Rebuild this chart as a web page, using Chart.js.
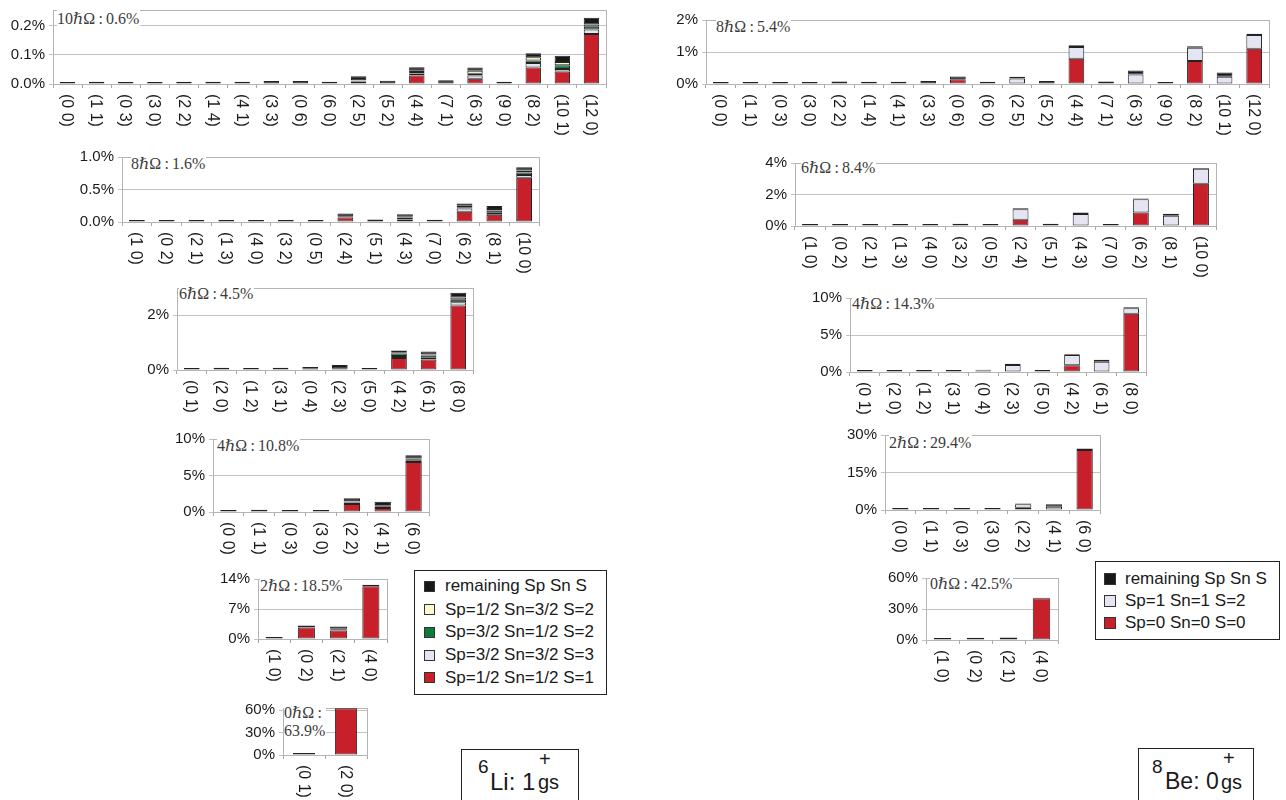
<!DOCTYPE html>
<html>
<head>
<meta charset="utf-8">
<script src="https://cdn.jsdelivr.net/npm/chart.js@4.4.1/dist/chart.umd.min.js"></script>
<style>
  html, body { margin: 0; padding: 0; background: #fff; }
  body { width: 1286px; height: 800px; position: relative; overflow: hidden; font-family: 'Liberation Sans', Arial, sans-serif; }
  canvas.panel { position: absolute; }
  .note { position: absolute; font: 16px/18px 'Liberation Serif', 'DejaVu Serif', serif; color: #3c3c3c; background: #fff; white-space: nowrap; padding-right: 1px; }
  .legend { position: absolute; border: 1.5px solid #222; background: #fff; box-sizing: border-box; }
  .legend .sw { position: absolute; border: 1px solid #333; box-sizing: border-box; }
  .legend .txt { position: absolute; font-size: 17px; line-height: 20px; color: #1a1a1a; white-space: nowrap; }
  .tag { position: absolute; border: 1.5px solid #222; background: #fff; box-sizing: border-box; }
  .tag span { position: absolute; white-space: nowrap; color: #1a1a1a; font-family: 'Liberation Sans', Arial, sans-serif; }
</style>
</head>
<body>
<script>
// ---- 6Li 1+ ground state: categories per NħΩ shell ----
const li10Cats = ['(0 0)','(1 1)','(0 3)','(3 0)','(2 2)','(1 4)','(4 1)','(3 3)','(0 6)','(6 0)','(2 5)','(5 2)','(4 4)','(7 1)','(6 3)','(9 0)','(8 2)','(10 1)','(12 0)'];
const li8Cats  = ['(1 0)','(0 2)','(2 1)','(1 3)','(4 0)','(3 2)','(0 5)','(2 4)','(5 1)','(4 3)','(7 0)','(6 2)','(8 1)','(10 0)'];
const li6Cats  = ['(0 1)','(2 0)','(1 2)','(3 1)','(0 4)','(2 3)','(5 0)','(4 2)','(6 1)','(8 0)'];
const li4Cats  = ['(0 0)','(1 1)','(0 3)','(3 0)','(2 2)','(4 1)','(6 0)'];
const li2Cats  = ['(1 0)','(0 2)','(2 1)','(4 0)'];
const li0Cats  = ['(0 1)','(2 0)'];

// values in percent, stacked bottom-up: S=1, S=3, Sp=3/2 S=2, Sp=1/2 S=2, remaining
const li10S1   = [0,0,0,0,0,0,0,0,0,0,0.009,0,0.029,0,0.018,0,0.057,0.043,0.172];
const li10S3   = [0,0,0,0,0,0,0,0,0,0,0.002,0,0.007,0,0.011,0,0.015,0.009,0.016];
const li10G    = [0,0,0,0,0,0,0,0,0,0,0.001,0,0.005,0,0.006,0,0.009,0.013,0.009];
const li10C    = [0,0,0,0,0,0,0,0,0,0,0.001,0,0.005,0,0.011,0,0.011,0.011,0.008];
const li10Rest = [0.007,0.008,0.007,0.007,0.008,0.008,0.008,0.010,0.010,0.008,0.014,0.011,0.012,0.013,0.011,0.008,0.014,0.021,0.023];

const li8S1   = [0,0,0,0,0,0,0,0.07,0,0.04,0,0.157,0.11,0.681];
const li8S3   = [0,0,0,0,0,0,0,0.01,0,0.02,0,0.05,0.033,0.043];
const li8G    = [0,0,0,0,0,0,0,0,0,0.01,0,0.02,0.033,0.038];
const li8C    = [0,0,0,0,0,0,0,0,0,0.01,0,0.024,0.024,0.029];
const li8Rest = [0.032,0.032,0.032,0.032,0.032,0.032,0.032,0.05,0.04,0.04,0.035,0.033,0.048,0.052];

const li6S1   = [0,0,0,0,0.06,0.06,0,0.44,0.38,2.36];
const li6S3   = [0,0,0,0,0,0,0,0.07,0.07,0.12];
const li6G    = [0,0,0,0,0,0,0,0.09,0.08,0.09];
const li6C    = [0,0,0,0,0,0,0,0.045,0.04,0.08];
const li6Rest = [0.075,0.08,0.075,0.085,0.05,0.12,0.075,0.07,0.11,0.18];

const li4S1   = [0,0,0,0,1.11,0.56,6.84];
const li4S3   = [0,0,0,0,0.2,0.15,0.26];
const li4G    = [0,0,0,0,0.1,0.15,0.13];
const li4C    = [0,0,0,0,0.05,0.1,0.09];
const li4Rest = [0.28,0.32,0.28,0.28,0.42,0.45,0.47];

const li2S1   = [0,2.66,1.96,12.32];
const li2S3   = [0,0.04,0.2,0];
const li2G    = [0,0,0.15,0];
const li2C    = [0,0,0.1,0];
const li2Rest = [0.45,0.45,0.5,0.35];

const li0S1   = [0,62.7];
const li0S3   = [0,0];
const li0G    = [0,0];
const li0C    = [0,0];
const li0Rest = [2.6,0.3];

// ---- 8Be 0+ ground state ----
// stacked bottom-up: S=0, S=2, remaining
const be8S0   = [0,0,0,0,0,0,0,0,0.145,0,0,0,0.79,0,0,0,0.72,0,1.10];
const be8S2   = [0,0,0,0,0,0,0,0,0,0,0.17,0,0.37,0,0.30,0,0.41,0.23,0.435];
const be8Rest = [0.065,0.065,0.065,0.065,0.08,0.07,0.07,0.09,0.087,0.07,0.06,0.095,0.05,0.08,0.12,0.065,0.05,0.13,0.035];

const be6S0   = [0,0,0,0,0,0,0,0.39,0,0,0,0.85,0,2.69];
const be6S2   = [0,0,0,0,0,0,0,0.68,0,0.76,0,0.85,0.65,0.95];
const be6Rest = [0.13,0.13,0.13,0.13,0.13,0.15,0.13,0.05,0.14,0.1,0.13,0.04,0.12,0.04];

const be4S0   = [0,0,0,0,0,0,0,0.92,0,7.86];
const be4S2   = [0,0,0,0,0.2,0.95,0,1.38,1.4,0.75];
const be4Rest = [0.28,0.28,0.28,0.28,0.12,0.18,0.28,0.1,0.25,0.15];

const be2S0   = [0,0,0,0,0.9,0,24.0];
const be2S2   = [0,0,0,0,1.4,1.3,0];
const be2Rest = [0.8,0.8,0.8,0.85,0.3,1.0,0.6];

const be0S0   = [0,0,0,40.5];
const be0S2   = [0,0,0.5,0];
const be0Rest = [1.9,2.1,1.8,0.3];

// series names, bottom of stack first
const liSeries = ['Sp=1/2 Sn=1/2 S=1','Sp=3/2 Sn=3/2 S=3','Sp=3/2 Sn=1/2 S=2','Sp=1/2 Sn=3/2 S=2','remaining Sp Sn S'];
const beSeries = ['Sp=0 Sn=0 S=0','Sp=1 Sn=1 S=2','remaining Sp Sn S'];

const RED = '#c8202a', LAV = '#e4e4f2', GREEN = '#0b7d3b', CREAM = '#fdf9cf', BLACK = '#181818';
const liColors = [RED, LAV, GREEN, CREAM, BLACK];
const beColors = [RED, LAV, BLACK];

const AX_W = 52, PAD_T = 8, PAD_R = 6, X_H = 62;
const FONT = "'Liberation Sans', Arial, sans-serif";

const panels = [
  { box: [53, 5, 606, 84],     max: 0.255, step: 0.1, dec: 1, cats: li10Cats, data: [li10S1, li10S3, li10G, li10C, li10Rest], colors: liColors, note: '10ℏΩ\u2009:\u20090.6%', nx: 4, ny: 5 },
  { box: [122, 152, 539, 222], max: 1.0,  step: 0.5, dec: 1, cats: li8Cats,  data: [li8S1, li8S3, li8G, li8C, li8Rest], colors: liColors, note: '8ℏΩ\u2009:\u20091.6%', nx: 9, ny: 3 },
  { box: [177, 283, 473, 370], max: 3,    step: 2,   dec: 0, cats: li6Cats,  data: [li6S1, li6S3, li6G, li6C, li6Rest], colors: liColors, note: '6ℏΩ\u2009:\u20094.5%', nx: 2, ny: 2 },
  { box: [213, 434, 429, 512], max: 10,   step: 5,   dec: 0, cats: li4Cats,  data: [li4S1, li4S3, li4G, li4C, li4Rest], colors: liColors, note: '4ℏΩ\u2009:\u200910.8%', nx: 4, ny: 3 },
  { box: [258, 574, 387, 639], max: 14,   step: 7,   dec: 0, cats: li2Cats,  data: [li2S1, li2S3, li2G, li2C, li2Rest], colors: liColors, note: '2ℏΩ\u2009:\u200918.5%', nx: 2, ny: 3 },
  { box: [283, 703, 367, 755], max: 63,   step: 30,  dec: 0, cats: li0Cats,  data: [li0S1, li0S3, li0G, li0C, li0Rest], colors: liColors, note: '0ℏΩ\u2009:<br>63.9%', nx: 1, ny: 1 },
  { box: [706, 15, 1269, 84],  max: 2,    step: 1,   dec: 0, cats: li10Cats, data: [be8S0, be8S2, be8Rest], colors: beColors, note: '8ℏΩ\u2009:\u20095.4%', nx: 10, ny: 3 },
  { box: [795, 158, 1216, 226], max: 4,   step: 2,   dec: 0, cats: li8Cats,  data: [be6S0, be6S2, be6Rest], colors: beColors, note: '6ℏΩ\u2009:\u20098.4%', nx: 6, ny: 1 },
  { box: [850, 293, 1146, 372], max: 10,  step: 5,   dec: 0, cats: li6Cats,  data: [be4S0, be4S2, be4Rest], colors: beColors, note: '4ℏΩ\u2009:\u200914.3%', nx: 2, ny: 2 },
  { box: [885, 430, 1100, 510], max: 30,  step: 15,  dec: 0, cats: li4Cats,  data: [be2S0, be2S2, be2Rest], colors: beColors, note: '2ℏΩ\u2009:\u200929.4%', nx: 4, ny: 4 },
  { box: [926, 573, 1058, 640], max: 60,  step: 30,  dec: 0, cats: li2Cats,  data: [be0S0, be0S2, be0Rest], colors: beColors, note: '0ℏΩ\u2009:\u200942.5%', nx: 4, ny: 2 }
];

// light frame round the plot area, rotated category labels under the axis
const framePlugin = {
  id: 'frame',
  beforeDatasetsDraw(chart) {
    const { ctx, chartArea: a } = chart;
    ctx.save();
    ctx.strokeStyle = '#b4b4b4';
    ctx.lineWidth = 1;
    ctx.strokeRect(Math.round(a.left) + 0.5, Math.round(a.top) + 0.5, Math.round(a.right - a.left), Math.round(a.bottom - a.top));
    ctx.restore();
  },
  afterDraw(chart) {
    const { ctx, chartArea: a } = chart;
    const xs = chart.scales.x;
    ctx.save();
    ctx.font = '16px ' + FONT;
    ctx.fillStyle = '#1a1a1a';
    ctx.textAlign = 'left';
    ctx.textBaseline = 'middle';
    xs.getLabels().forEach((lab, i) => {
      ctx.save();
      ctx.translate(xs.getPixelForValue(i) - 1, a.bottom + 10);
      ctx.rotate(Math.PI / 2);
      ctx.fillText(lab, 0, 0);
      ctx.restore();
    });
    ctx.restore();
  }
};

function makePanel(p) {
  const [l, t, r, b] = p.box;
  const cv = document.createElement('canvas');
  cv.className = 'panel';
  cv.width = r - l + AX_W + PAD_R;
  cv.height = b - t + PAD_T + X_H;
  cv.style.left = (l - AX_W) + 'px';
  cv.style.top = (t - PAD_T) + 'px';
  document.body.appendChild(cv);

  new Chart(cv, {
    type: 'bar',
    data: {
      labels: p.cats,
      datasets: p.data.map((d, i) => ({
        data: d,
        backgroundColor: p.colors[i],
        borderColor: '#222',
        borderWidth: 1,
        borderSkipped: false,
        inflateAmount: 0,
        barPercentage: 0.53,
        categoryPercentage: 1
      }))
    },
    options: {
      responsive: false,
      animation: false,
      devicePixelRatio: 1,
      layout: { padding: { top: PAD_T, right: PAD_R, left: 0, bottom: 0 } },
      plugins: { legend: { display: false }, tooltip: { enabled: false }, title: { display: false } },
      scales: {
        x: {
          stacked: true,
          offset: true,
          grid: { offset: true, drawOnChartArea: false, drawTicks: true, tickLength: 4, color: '#a8a8a8' },
          border: { color: '#a8a8a8' },
          ticks: { display: false },
          afterFit(s) { s.height = X_H; }
        },
        y: {
          stacked: true,
          min: 0,
          max: p.max,
          ticks: {
            stepSize: p.step,
            padding: 4,
            color: '#1a1a1a',
            font: { family: FONT, size: 15 },
            autoSkip: false,
            callback: v => v.toFixed(p.dec) + '%'
          },
          grid: { color: '#c2c2c2', tickLength: 4 },
          border: { color: '#a8a8a8' },
          afterBuildTicks(s) {
            // only whole steps, never the odd top value
            const out = [];
            for (let k = 0; k * p.step <= p.max + 1e-9; k++) out.push({ value: +(k * p.step).toFixed(6) });
            s.ticks = out;
          },
          afterFit(s) { s.width = AX_W; }
        }
      }
    },
    plugins: [framePlugin]
  });

  const n = document.createElement('div');
  n.className = 'note';
  n.innerHTML = p.note;
  n.style.left = (l + p.nx) + 'px';
  n.style.top = (t + p.ny) + 'px';
  document.body.appendChild(n);
}

panels.forEach(makePanel);

// legends, top row first (reverse of stack order)
function makeLegend(names, colors, box, rows, swX, swSize, txtX) {
  const lg = document.createElement('div');
  lg.className = 'legend';
  lg.style.left = box[0] + 'px';
  lg.style.top = box[1] + 'px';
  lg.style.width = box[2] + 'px';
  lg.style.height = box[3] + 'px';
  const order = names.map((_, i) => i).reverse();
  order.forEach((idx, k) => {
    const cy = rows[k];
    const sw = document.createElement('div');
    sw.className = 'sw';
    sw.style.left = swX + 'px';
    sw.style.top = (cy - swSize / 2) + 'px';
    sw.style.width = swSize + 'px';
    sw.style.height = swSize + 'px';
    sw.style.background = colors[idx];
    lg.appendChild(sw);
    const tx = document.createElement('div');
    tx.className = 'txt';
    tx.style.left = txtX + 'px';
    tx.style.top = (cy - 10) + 'px';
    tx.textContent = names[idx];
    lg.appendChild(tx);
  });
  document.body.appendChild(lg);
}

makeLegend(liSeries, liColors, [414, 570, 193, 125], [15, 38.5, 61, 84, 106.5], 9, 11, 30);
makeLegend(beSeries, beColors, [1095, 561, 185, 79], [16.5, 39, 60.5], 8, 12, 29);

// nucleus / state tags
function makeTag(box, parts) {
  const tg = document.createElement('div');
  tg.className = 'tag';
  tg.style.left = box[0] + 'px';
  tg.style.top = box[1] + 'px';
  tg.style.width = box[2] + 'px';
  tg.style.height = box[3] + 'px';
  parts.forEach(([txt, x, y, size]) => {
    const s = document.createElement('span');
    s.textContent = txt;
    s.style.left = x + 'px';
    s.style.top = y + 'px';
    s.style.fontSize = size + 'px';
    s.style.lineHeight = size + 'px';
    tg.appendChild(s);
  });
  document.body.appendChild(tg);
}

makeTag([461, 749, 118, 70], [['6', 16, 7, 19], ['Li: 1', 28, 20, 24], ['+', 77, -1, 20], ['gs', 76, 22, 20]]);
makeTag([1138, 748, 116, 70], [['8', 13, 8, 19], ['Be: 0', 26, 21, 23], ['+', 84, -1, 20], ['gs', 82, 23, 20]]);
</script>
</body>
</html>
